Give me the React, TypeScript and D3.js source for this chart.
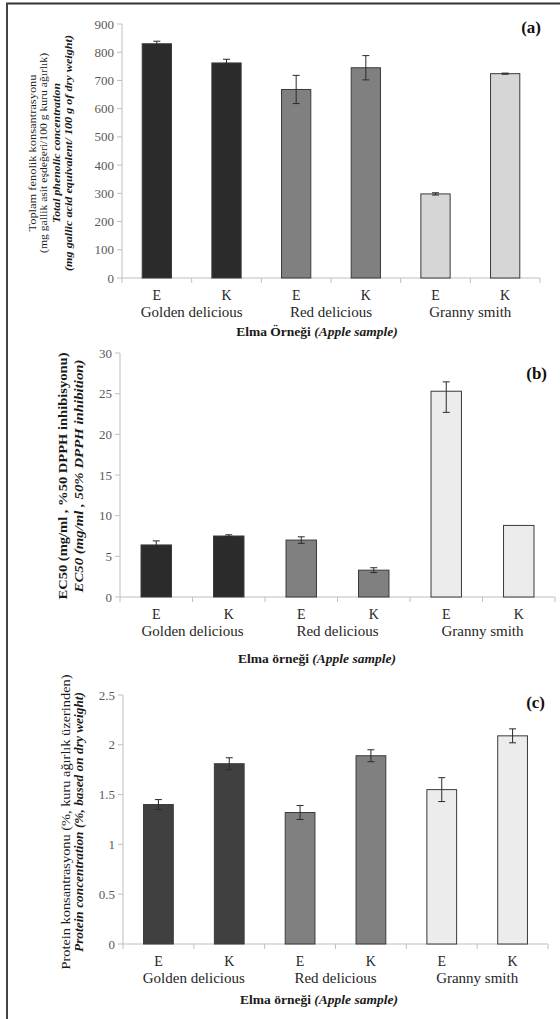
import React from 'react';
import * as d3 from 'd3';

// sample labels
const samples = ['E', 'K', 'E', 'K', 'E', 'K'];
const varieties = ['Golden delicious', 'Red delicious', 'Granny smith'];

// (a) total phenolic concentration
const phenolic = [830, 762, 668, 745, 298, 724];
const phenolicErr = [9, 13, 50, 43, 4, 2];
const phenolicTicks = [0, 100, 200, 300, 400, 500, 600, 700, 800, 900];

// (b) EC50
const ec50 = [6.4, 7.5, 7.0, 3.3, 25.3, 8.8];
const ec50ErrUp = [0.5, 0.15, 0.4, 0.3, 1.15, 0];
const ec50ErrDown = [0.5, 0.15, 0.4, 0.3, 2.6, 0];
const ec50Ticks = [0, 5, 10, 15, 20, 25, 30];

// (c) protein
const protein = [1.4, 1.81, 1.32, 1.89, 1.55, 2.09];
const proteinErr = [0.05, 0.06, 0.07, 0.06, 0.12, 0.07];
const proteinTicks = [0, 0.5, 1, 1.5, 2, 2.5];

const FONT = "'Liberation Serif', 'DejaVu Serif', Times, serif";

type Line = { text: React.ReactNode; x: number; len: number; weight?: string; italic?: boolean; size: number };

type PanelProps = {
  values: number[];
  errUp: number[];
  errDown: number[];
  ticks: number[];
  max: number;
  x0: number;
  x1: number;
  yTop: number;
  y0: number;
  fills: string[];
  label: string;
  labelX: number;
  labelY: number;
  titleLines: Line[];
  titleCy: number;
  xTitle: React.ReactNode;
  xTitleX: number;
  xTitleY: number;
};

const Panel = (p: PanelProps) => {
  const x = d3.scaleBand<number>().domain(d3.range(samples.length)).range([p.x0, p.x1]).padding(0);
  const y = d3.scaleLinear().domain([0, p.max]).range([p.y0, p.yTop]);
  const bw = x.bandwidth() * 0.42;
  const fmt = (v: number) => String(v);

  return (
    <g style={{ fontFamily: FONT }}>
      {/* axes */}
      <line x1={p.x0} x2={p.x0} y1={p.yTop} y2={p.y0} stroke="#bfbfbf" />
      <line x1={p.x0} x2={p.x1} y1={p.y0} y2={p.y0} stroke="#bfbfbf" />
      {p.ticks.map((t) => (
        <g key={t}>
          <line x1={p.x0 - 5} x2={p.x0} y1={y(t)} y2={y(t)} stroke="#bfbfbf" />
          <text x={p.x0 - 8} y={y(t)} dy="0.35em" textAnchor="end" fontSize={13} fill="#595959">
            {fmt(t)}
          </text>
        </g>
      ))}
      {d3.range(samples.length + 1).map((i) => {
        const xx = i < samples.length ? (x(i) as number) : p.x1;
        return <line key={i} x1={xx} x2={xx} y1={p.y0} y2={p.y0 + 5} stroke="#bfbfbf" />;
      })}

      {/* bars */}
      {p.values.map((v, i) => {
        const cx = (x(i) as number) + x.bandwidth() / 2;
        return (
          <g key={i}>
            <rect x={cx - bw / 2} y={y(v)} width={bw} height={p.y0 - y(v)} fill={p.fills[i]} stroke="#3a3a3a" strokeWidth={1} />
            {(p.errUp[i] > 0 || p.errDown[i] > 0) && (
              <g stroke="#2a2a2a" strokeWidth={1}>
                <line x1={cx} x2={cx} y1={y(v + p.errUp[i])} y2={y(v - p.errDown[i])} />
                <line x1={cx - 3.5} x2={cx + 3.5} y1={y(v + p.errUp[i])} y2={y(v + p.errUp[i])} />
                <line x1={cx - 3.5} x2={cx + 3.5} y1={y(v - p.errDown[i])} y2={y(v - p.errDown[i])} />
              </g>
            )}
            <text x={cx} y={p.y0 + 22} textAnchor="middle" fontSize={14} fill="#262626">
              {samples[i]}
            </text>
          </g>
        );
      })}
      {varieties.map((v, j) => (
        <text key={v} x={x(j * 2 + 1) as number} y={p.y0 + 39} textAnchor="middle" fontSize={15} fill="#262626">
          {v}
        </text>
      ))}

      {/* panel letter */}
      <text x={p.labelX} y={p.labelY} textAnchor="end" fontSize={17} fontWeight="bold" fill="#111">
        {p.label}
      </text>

      {/* y title */}
      {p.titleLines.map((l, i) => (
        <text
          key={i}
          transform={`translate(${l.x},${p.titleCy}) rotate(-90)`}
          dy="0.35em"
          textAnchor="middle"
          fontSize={l.size}
          fontWeight={l.weight || 'normal'}
          fontStyle={l.italic ? 'italic' : 'normal'}
          textLength={l.len}
          lengthAdjust="spacingAndGlyphs"
          fill="#1a1a1a"
        >
          {l.text}
        </text>
      ))}

      {/* x title */}
      <text x={p.xTitleX} y={p.xTitleY} textAnchor="middle" fontSize={13.5} fontWeight="bold" fill="#1a1a1a">
        {p.xTitle}
      </text>
    </g>
  );
};

const shades = (dark: string, mid: string, light: string) => [dark, dark, mid, mid, light, light];

export default function App() {
  return (
    <svg
      width={560}
      height={1019}
      style={{ position: 'absolute', left: 0, top: 0, background: '#fff' }}
    >
      <rect x={0} y={0} width={560} height={1019} fill="#fff" />
      {/* frame */}
      <line x1={6} x2={560} y1={3.5} y2={3.5} stroke="#333" strokeWidth={2} />
      <line x1={7} x2={7} y1={3} y2={1019} stroke="#444" strokeWidth={2} />

      <Panel
        values={phenolic}
        errUp={phenolicErr}
        errDown={phenolicErr}
        ticks={phenolicTicks}
        max={900}
        x0={122}
        x1={540}
        yTop={24}
        y0={278}
        fills={shades('#2b2b2b', '#808080', '#d6d6d6')}
        label="(a)"
        labelX={541}
        labelY={33}
        titleCy={153}
        titleLines={[
          { text: 'Toplam fenolik konsantrasyonu', x: 32, len: 157, size: 11 },
          { text: '(mg gallik asit eşdeğeri/100 g kuru ağırlık)', x: 43.5, len: 200, size: 11 },
          { text: 'Total phenolic concentration', x: 56, len: 140, size: 11, weight: 'bold', italic: true },
          { text: '(mg gallic acid equivalent/ 100 g of dry weight)', x: 68, len: 236, size: 11, weight: 'bold', italic: true },
        ]}
        xTitle={<>Elma Örneği <tspan fontStyle="italic">(Apple sample)</tspan></>}
        xTitleX={317}
        xTitleY={336}
      />

      <Panel
        values={ec50}
        errUp={ec50ErrUp}
        errDown={ec50ErrDown}
        ticks={ec50Ticks}
        max={30}
        x0={120}
        x1={555}
        yTop={353}
        y0={597}
        fills={shades('#2b2b2b', '#808080', '#ececec')}
        label="(b)"
        labelX={547}
        labelY={379}
        titleCy={476}
        titleLines={[
          { text: 'EC50 (mg/ml , %50 DPPH inhibisyonu)', x: 62, len: 247, size: 13, weight: 'bold' },
          { text: 'EC50 (mg/ml , 50% DPPH inhibition)', x: 78, len: 233, size: 13, weight: 'bold', italic: true },
        ]}
        xTitle={<>Elma örneği <tspan fontStyle="italic">(Apple sample)</tspan></>}
        xTitleX={317}
        xTitleY={663}
      />

      <Panel
        values={protein}
        errUp={proteinErr}
        errDown={proteinErr}
        ticks={proteinTicks}
        max={2.5}
        x0={123}
        x1={548}
        yTop={695}
        y0={944}
        fills={shades('#404040', '#808080', '#ececec')}
        label="(c)"
        labelX={545}
        labelY={708}
        titleCy={822}
        titleLines={[
          { text: 'Protein konsantrasyonu (%, kuru ağırlık üzerinden)', x: 65, len: 295, size: 13 },
          { text: 'Protein concentration (%, based on dry weight)', x: 79, len: 260, size: 12, weight: 'bold', italic: true },
        ]}
        xTitle={<>Elma örneği <tspan fontStyle="italic">(Apple sample)</tspan></>}
        xTitleX={319}
        xTitleY={1004}
      />
    </svg>
  );
}
